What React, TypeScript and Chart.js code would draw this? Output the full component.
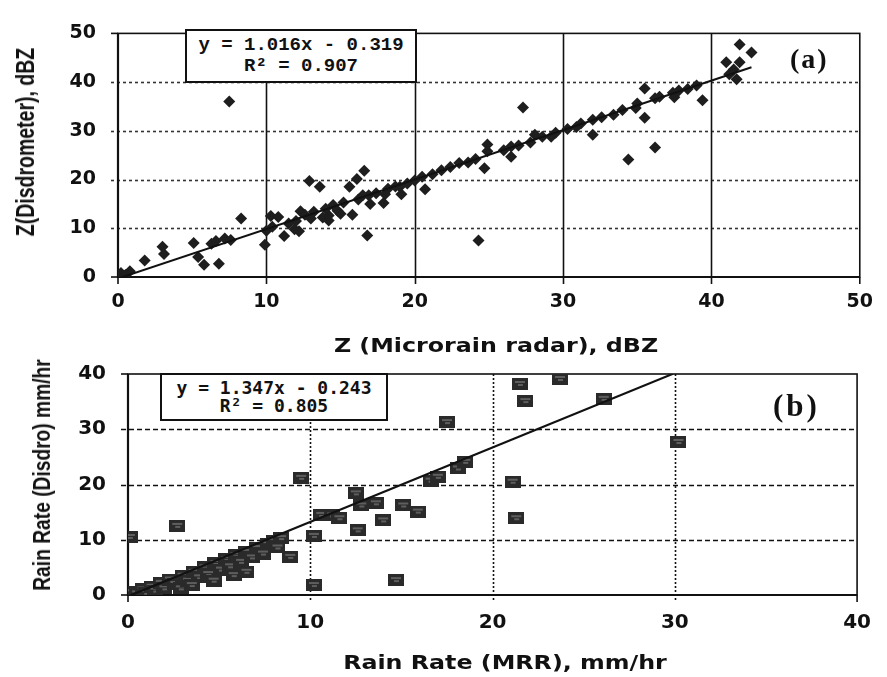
import React, { useEffect, useRef } from "react";
import { Chart, registerables } from "chart.js";
Chart.register(...registerables);

// ---------- Panel (a): reflectivity ----------
const zTicks = [0, 10, 20, 30, 40, 50];
const zGridY = [10, 20, 30, 40];
const zGridX = [10, 20, 30, 40];
const zRadar = [
  0.2, 0.5, 0.8, 1.8, 3.0, 3.1, 5.1, 5.4, 5.8, 6.8, 6.3, 6.6, 7.2, 7.6, 7.5, 8.3, 9.9, 10.0, 10.3, 10.8,
  10.4, 11.2, 11.9, 12.2, 12.3, 12.6, 12.9, 13.2, 13.6, 13.8, 14.2, 14.2, 14.5, 14.8, 15.2, 15.6, 15.8, 16.1, 16.2, 16.6,
  16.8, 16.9, 17.4, 17.9, 18.2, 18.7, 19.1, 19.5, 20.0, 20.7, 20.5, 21.2, 21.8, 22.4, 23.0, 23.6, 24.1, 24.3, 24.7, 24.9,
  24.9, 26.0, 26.5, 26.5, 27.0, 27.3, 27.8, 28.1, 28.6, 29.2, 29.5, 30.3, 30.9, 31.2, 32.0, 32.0, 32.6, 33.4, 34.0, 34.4,
  34.9, 35.5, 35.5, 35.0, 36.2, 36.2, 36.5, 37.5, 37.4, 37.8, 38.4, 39.0, 39.4, 41.2, 41.0, 41.9, 41.9, 42.7, 41.7, 41.5,
  12.0, 13.0, 14.0, 15.0, 16.5, 17.0, 18.0, 19.0, 11.5,
];
const zDisdro = [
  0.8, 0.4, 1.2, 3.4, 6.2, 4.7, 7.0, 4.1, 2.5, 2.7, 6.8, 7.4, 7.9, 7.6, 36.0, 12.0, 6.6, 9.5, 12.5, 12.3,
  10.3, 8.4, 9.8, 9.4, 13.5, 12.8, 19.7, 13.4, 18.5, 12.2, 12.6, 11.6, 14.8, 13.6, 15.3, 18.5, 12.8, 20.1, 15.9, 21.8,
  8.5, 16.8, 17.2, 15.2, 18.1, 18.6, 17.0, 19.2, 19.8, 18.0, 20.6, 21.1, 21.9, 22.6, 23.4, 23.5, 24.2, 7.5, 22.3, 27.2,
  25.8, 26.0, 26.8, 24.7, 27.0, 34.8, 27.6, 29.2, 28.8, 28.8, 29.6, 30.4, 30.8, 31.5, 32.3, 29.2, 32.8, 33.3, 34.3, 24.1,
  34.7, 32.7, 38.7, 35.6, 36.7, 26.6, 37.0, 36.9, 37.8, 38.3, 38.6, 39.3, 36.3, 41.6, 44.1, 44.1, 47.7, 46.1, 40.6, 42.6,
  11.5, 12.0, 14.0, 13.0, 16.8, 15.0, 17.0, 18.5, 11.0,
];
const zFitSlope = 1.016;
const zFitIntercept = -0.319;
const zFitRange = [0, 42.7];

// ---------- Panel (b): rain rate ----------
const rTicks = [0, 10, 20, 30, 40];
const rGridY = [10, 20, 30];
const rGridX = [10, 20, 30];
const rainMRR = [
  0.0, 0.2, 0.5, 0.8, 1.0, 1.3, 1.5, 1.8, 2.0, 2.3, 2.6, 2.9, 3.0, 3.3, 3.6, 3.9, 4.2, 4.4, 4.7, 4.8,
  5.1, 5.4, 5.6, 5.8, 5.9, 6.2, 6.5, 6.5, 6.8, 7.1, 7.4, 7.7, 8.0, 8.2, 8.4, 3.5,
  0.1, 2.7, 9.5, 8.9, 10.2, 10.2, 10.6, 11.2, 11.6, 12.5, 12.8, 13.6, 12.6, 14.0, 15.1, 15.9, 14.7, 16.6, 17.0, 18.1,
  18.5, 17.5, 21.1, 21.3, 21.5, 21.8, 23.7, 26.1, 30.2,
];
const rainDisdro = [
  0.0, 0.5, 0.3, 1.0, 0.4, 1.5, 0.8, 2.2, 1.2, 2.8, 2.0, 1.2, 3.5, 2.6, 4.2, 3.2, 5.0, 3.8, 2.6, 5.8,
  4.6, 6.5, 5.2, 3.6, 7.2, 6.0, 4.2, 7.8, 6.8, 8.5, 7.5, 9.2, 9.8, 8.6, 10.3, 1.8,
  10.5, 12.5, 21.2, 6.9, 1.8, 10.7, 14.5, 14.4, 13.9, 18.4, 16.2, 16.6, 11.7, 13.5, 16.2, 15.1, 2.7, 20.7, 21.4, 22.9,
  24.1, 31.3, 20.5, 13.9, 38.2, 35.1, 39.1, 35.5, 27.7,
];
const rFitSlope = 1.347;
const rFitIntercept = -0.243;
const rFitRange = [0, 29.9];

const pairs = (xs: number[], ys: number[]) => xs.map((x, i) => ({ x, y: ys[i] }));
const fitLine = (m: number, b: number, r: number[]) => r.map((x) => ({ x, y: m * x + b }));

function makeGridPlugin(cfg: any) {
  return {
    id: "customGrid" + cfg.key,
    beforeDatasetsDraw(chart: any) {
      const { ctx, chartArea: a, scales } = chart;
      const xs = scales.x;
      const ys = scales.y;
      ctx.save();
      ctx.strokeStyle = cfg.hColor;
      ctx.lineWidth = cfg.hWidth;
      ctx.setLineDash(cfg.hDash);
      for (const v of cfg.gridY) {
        const py = Math.round(ys.getPixelForValue(v)) + 0.5;
        ctx.beginPath();
        ctx.moveTo(a.left - 7, py);
        ctx.lineTo(a.right, py);
        ctx.stroke();
      }
      ctx.strokeStyle = cfg.vColor;
      ctx.lineWidth = cfg.vWidth;
      ctx.setLineDash(cfg.vDash);
      for (const v of cfg.gridX) {
        const px = Math.round(xs.getPixelForValue(v)) + 0.5;
        ctx.beginPath();
        ctx.moveTo(px, a.top);
        ctx.lineTo(px, a.bottom + 7);
        ctx.stroke();
      }
      ctx.setLineDash([]);
      ctx.strokeStyle = "#111";
      ctx.lineWidth = 1.6;
      ctx.strokeRect(a.left, a.top, a.right - a.left, a.bottom - a.top);
      ctx.lineWidth = 2.2;
      ctx.beginPath();
      ctx.moveTo(a.left, a.top);
      ctx.lineTo(a.left, a.bottom);
      ctx.lineTo(a.right, a.bottom);
      ctx.stroke();
      ctx.lineWidth = 1.6;
      for (const v of cfg.endY) {
        const py = ys.getPixelForValue(v);
        ctx.beginPath();
        ctx.moveTo(a.left - 7, py);
        ctx.lineTo(a.left, py);
        ctx.stroke();
      }
      for (const v of cfg.endX) {
        const px = xs.getPixelForValue(v);
        ctx.beginPath();
        ctx.moveTo(px, a.bottom);
        ctx.lineTo(px, a.bottom + 7);
        ctx.stroke();
      }
      ctx.restore();
    },
  };
}

function makeRectMarker() {
  const c = document.createElement("canvas");
  c.width = 16;
  c.height = 12;
  const g = c.getContext("2d")!;
  g.fillStyle = "#2a2a2a";
  g.fillRect(0, 0, 16, 12);
  g.fillStyle = "#5e5e5e";
  g.fillRect(3, 3, 10, 2);
  g.fillRect(6, 6, 5, 2);
  return c;
}

const tickFont = (size: number) => ({ family: "'DejaVu Sans', sans-serif", weight: "bold" as const, size });

export default function App() {
  const refA = useRef<HTMLCanvasElement>(null);
  const refB = useRef<HTMLCanvasElement>(null);

  useEffect(() => {
    const chartA = new Chart(refA.current!, {
      type: "scatter",
      data: {
        datasets: [
          {
            type: "line",
            data: fitLine(zFitSlope, zFitIntercept, zFitRange),
            borderColor: "#111",
            borderWidth: 2,
            pointRadius: 0,
            fill: false,
          } as any,
          {
            data: pairs(zRadar, zDisdro),
            pointStyle: "rectRot",
            pointRadius: 6,
            backgroundColor: "#1e1e1e",
            borderColor: "#1e1e1e",
            borderWidth: 0,
          },
        ],
      },
      options: {
        animation: false,
        responsive: false,
        layout: { padding: { top: 31, right: 17, left: 0, bottom: 0 } },
        plugins: { legend: { display: false }, tooltip: { enabled: false } },
        scales: {
          x: {
            type: "linear",
            min: 0,
            max: 50,
            afterBuildTicks: (s: any) => { s.ticks = zTicks.map((v) => ({ value: v })); },
            ticks: { padding: 14, color: "#111", font: tickFont(19) },
            grid: { display: false, drawTicks: false },
            border: { display: false },
            afterFit: (s: any) => { s.height = 63; },
          },
          y: {
            type: "linear",
            min: 0,
            max: 50,
            afterBuildTicks: (s: any) => { s.ticks = zTicks.map((v) => ({ value: v })); },
            ticks: { padding: 22, color: "#111", font: tickFont(19) },
            grid: { display: false, drawTicks: false },
            border: { display: false },
            afterFit: (s: any) => { s.width = 118; },
          },
        },
      },
      plugins: [
        makeGridPlugin({
          key: "a",
          gridY: zGridY,
          gridX: zGridX,
          endY: [0, 50],
          endX: [0, 50],
          hColor: "#333",
          hWidth: 1.6,
          hDash: [3, 3],
          vColor: "#111",
          vWidth: 1.6,
          vDash: [],
        }),
      ],
    });

    const marker = makeRectMarker();
    const chartB = new Chart(refB.current!, {
      type: "scatter",
      data: {
        datasets: [
          {
            type: "line",
            data: fitLine(rFitSlope, rFitIntercept, rFitRange),
            borderColor: "#111",
            borderWidth: 2.2,
            pointRadius: 0,
            fill: false,
          } as any,
          {
            data: pairs(rainMRR, rainDisdro),
            pointStyle: marker,
            pointRadius: 6,
            backgroundColor: "#2a2a2a",
            borderColor: "#2a2a2a",
          },
        ],
      },
      options: {
        animation: false,
        responsive: false,
        layout: { padding: { top: 32, right: 24, left: 0, bottom: 0 } },
        plugins: { legend: { display: false }, tooltip: { enabled: false } },
        scales: {
          x: {
            type: "linear",
            min: 0,
            max: 40,
            afterBuildTicks: (s: any) => { s.ticks = rTicks.map((v) => ({ value: v })); },
            ticks: { padding: 16, color: "#111", font: tickFont(20) },
            grid: { display: false, drawTicks: false },
            border: { display: false },
            afterFit: (s: any) => { s.height = 82; },
          },
          y: {
            type: "linear",
            min: 0,
            max: 40,
            afterBuildTicks: (s: any) => { s.ticks = rTicks.map((v) => ({ value: v })); },
            ticks: { padding: 22, color: "#111", font: tickFont(20) },
            grid: { display: false, drawTicks: false },
            border: { display: false },
            afterFit: (s: any) => { s.width = 128; },
          },
        },
      },
      plugins: [
        makeGridPlugin({
          key: "b",
          gridY: rGridY,
          gridX: rGridX,
          endY: [0, 40],
          endX: [0, 40],
          hColor: "#111",
          hWidth: 1.6,
          hDash: [5, 3],
          vColor: "#111",
          vWidth: 1.6,
          vDash: [2, 2],
        }),
      ],
    });

    return () => {
      chartA.destroy();
      chartB.destroy();
    };
  }, []);

  const abs = (s: React.CSSProperties): React.CSSProperties => ({ position: "absolute", ...s });

  return (
    <div style={abs({ left: 0, top: 0, width: 887, height: 677, background: "#fff", overflow: "hidden", color: "#111" })}>
      <canvas ref={refA} width={887} height={340} style={abs({ left: 0, top: 0, width: 887, height: 340 })} />
      <canvas ref={refB} width={887} height={337} style={abs({ left: 0, top: 340, width: 887, height: 337 })} />

      <div
        style={abs({
          left: 185, top: 29, width: 232, height: 54, boxSizing: "border-box",
          border: "2px solid #111", background: "#fff", textAlign: "center",
          fontFamily: "'Liberation Mono', monospace", fontWeight: "bold", fontSize: 19, lineHeight: "21px", paddingTop: 4,
        })}
      >
        <div>y = 1.016x - 0.319</div>
        <div>R² = 0.907</div>
      </div>
      <div style={abs({ left: 790, top: 42, fontFamily: "'Liberation Serif', serif", fontWeight: "bold", fontSize: 28, letterSpacing: 2, lineHeight: "34px" })}>(a)</div>

      <div
        style={abs({
          left: 160, top: 373, width: 228, height: 48, boxSizing: "border-box",
          border: "2px solid #111", background: "#fff", textAlign: "center",
          fontFamily: "'DejaVu Sans Mono', monospace", fontWeight: "bold", fontSize: 18, lineHeight: "18px", paddingTop: 4,
        })}
      >
        <div>y = 1.347x - 0.243</div>
        <div>R² = 0.805</div>
      </div>
      <div style={abs({ left: 773, top: 388, fontFamily: "'Liberation Serif', serif", fontWeight: "bold", fontSize: 31, letterSpacing: 3, lineHeight: "36px" })}>(b)</div>

      <div style={abs({ left: 496, top: 345, transform: "translate(-50%,-50%) scaleX(1.25)", whiteSpace: "nowrap", fontFamily: "'DejaVu Sans', sans-serif", fontWeight: "bold", fontSize: 19 })}>
        Z (Microrain radar), dBZ
      </div>
      <div style={abs({ left: 505, top: 662, transform: "translate(-50%,-50%) scaleX(1.25)", whiteSpace: "nowrap", fontFamily: "'DejaVu Sans', sans-serif", fontWeight: "bold", fontSize: 19 })}>
        Rain Rate (MRR), mm/hr
      </div>
      <div style={abs({ left: 25, top: 142, transform: "translate(-50%,-50%) rotate(-90deg) scaleX(0.78)", whiteSpace: "nowrap", fontFamily: "'Liberation Sans', sans-serif", fontWeight: "bold", fontSize: 25, lineHeight: "28px" })}>
        Z(Disdrometer), dBZ
      </div>
      <div style={abs({ left: 42, top: 475, transform: "translate(-50%,-50%) rotate(-90deg) scaleX(0.8)", whiteSpace: "nowrap", fontFamily: "'Liberation Sans', sans-serif", fontWeight: "bold", fontSize: 24, lineHeight: "28px" })}>
        Rain Rate (Disdro) mm/hr
      </div>
    </div>
  );
}
